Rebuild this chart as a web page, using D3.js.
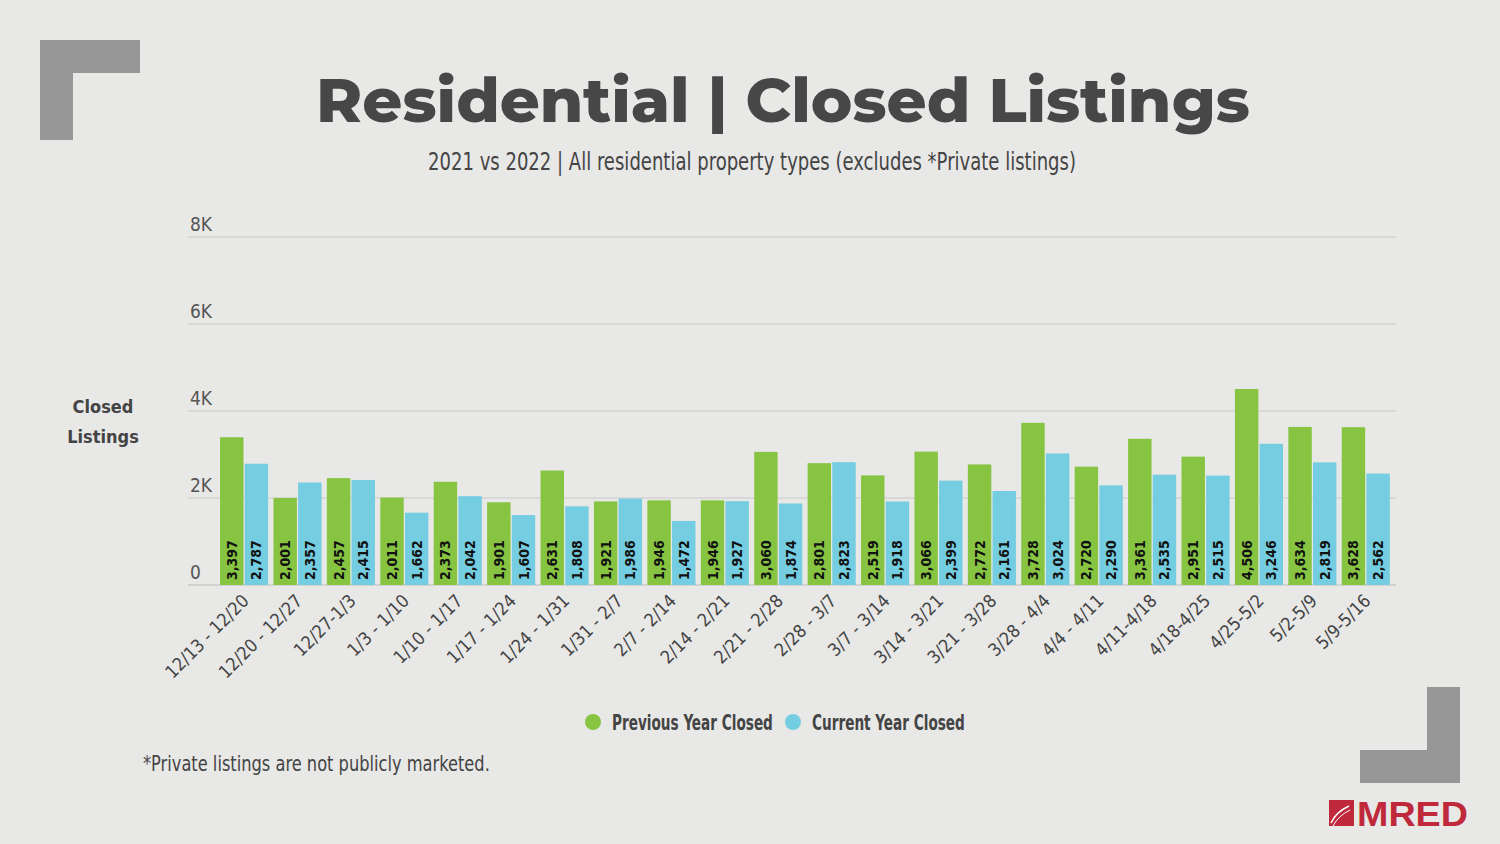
<!DOCTYPE html>
<html><head><meta charset="utf-8">
<script src="https://cdn.jsdelivr.net/npm/d3@7"></script>
<style>
html,body{margin:0;padding:0;background:#e8e8e7;}
svg{display:block;}
</style></head>
<body>
<svg id="c" width="1500" height="844"></svg>
<script>
const categories = ["12/13 - 12/20","12/20 - 12/27","12/27-1/3","1/3 - 1/10","1/10 - 1/17","1/17 - 1/24","1/24 - 1/31","1/31 - 2/7","2/7 - 2/14","2/14 - 2/21","2/21 - 2/28","2/28 - 3/7","3/7 - 3/14","3/14 - 3/21","3/21 - 3/28","3/28 - 4/4","4/4 - 4/11","4/11-4/18","4/18-4/25","4/25-5/2","5/2-5/9","5/9-5/16"];
const previousYear = [3397,2001,2457,2011,2373,1901,2631,1921,1946,1946,3060,2801,2519,3066,2772,3728,2720,3361,2951,4506,3634,3628];
const currentYear  = [2787,2357,2415,1662,2042,1607,1808,1986,1472,1927,1874,2823,1918,2399,2161,3024,2290,2535,2515,3246,2819,2562];
const seriesNames = ["Previous Year Closed","Current Year Closed"];
const yTicks = [0,2000,4000,6000,8000];
const yTickLabels = ["0","2K","4K","6K","8K"];

const colors = ["#86c441","#74cde0"];
const COND = "'Liberation Sans Narrow','DejaVu Sans Condensed','Roboto Condensed',sans-serif";
const svg = d3.select("#c");

// place a text whose left/centre is at (x,y) and squeeze it horizontally to width w
function fitText(x, y, w, anchor, str, attrs){
  const g = svg.append("g");
  const t = g.append("text").attr("x",0).attr("y",0).attr("text-anchor",anchor).text(str);
  Object.entries(attrs).forEach(([k,v])=>t.attr(k,v));
  const nat = t.node().getComputedTextLength();
  const sx = w / nat;
  g.attr("transform",`translate(${x},${y}) scale(${sx},1)`);
  return t;
}

// corner decorations
svg.append("path").attr("d","M40,40H140V73H73V140H40Z").attr("fill","#979797");
svg.append("path").attr("d","M1427,687H1460V783H1360V750H1427Z").attr("fill","#979797");

// title
fitText(783,122,934,"middle","Residential | Closed Listings",
  {"font-family":"Montserrat,'Open Sans',Lato,sans-serif","font-weight":800,"font-size":62,"fill":"#474747"});
fitText(752,170,648,"middle","2021 vs 2022 | All residential property types (excludes *Private listings)",
  {"font-family":COND,"font-size":24,"fill":"#444"});

// scales
const data = categories.map((c,i)=>({cat:c, vals:[previousYear[i], currentYear[i]]}));
const x = d3.scaleBand().domain(categories).range([217.4, 1392.5]).paddingInner(0.1).paddingOuter(0.05);
const x1 = d3.scaleBand().domain([0,1]).range([0, x.bandwidth()]).paddingInner(0.05);
const y = d3.scaleLinear().domain([0,8000]).range([585,237]);

// gridlines
const gl = svg.append("g");
gl.selectAll("line").data(yTicks).join("line")
  .attr("x1",188).attr("x2",1396).attr("y1",d=>y(d)).attr("y2",d=>y(d))
  .attr("stroke",d=>d===0?"#bdbdbd":"#c9c9c9").attr("stroke-width",1);
gl.selectAll("text").data(yTicks).join("text")
  .attr("x",190).attr("y",d=>y(d)-6).attr("font-family",COND).attr("font-size",19)
  .attr("fill","#555").text((d,i)=>yTickLabels[i]);

// y title
const yt = svg.append("text").attr("font-family",COND).attr("font-weight",700).attr("font-size",18)
  .attr("fill","#444").attr("text-anchor","middle");
yt.append("tspan").attr("x",103).attr("y",413).text("Closed");
yt.append("tspan").attr("x",103).attr("y",443).text("Listings");

// bars
const groups = svg.append("g").selectAll("g").data(data).join("g")
  .attr("transform",d=>`translate(${x(d.cat)},0)`);
groups.selectAll("rect").data(d=>d.vals).join("rect")
  .attr("x",(d,i)=>x1(i)).attr("width",x1.bandwidth())
  .attr("y",d=>y(d)).attr("height",d=>y(0)-y(d)).attr("fill",(d,i)=>colors[i]);
groups.selectAll("text").data(d=>d.vals).join("text")
  .attr("transform",(d,i)=>`translate(${x1(i)+x1.bandwidth()/2+5},580) rotate(-90)`)
  .attr("font-family",COND).attr("font-weight",700).attr("font-size",14).attr("fill","#111")
  .text(d=>d3.format(",")(d));

// x labels
svg.append("g").selectAll("text").data(categories).join("text")
  .attr("transform",d=>`translate(${x(d)+x.bandwidth()/2+6},602) rotate(-45)`)
  .attr("text-anchor","end").attr("font-family",COND).attr("font-size",18).attr("fill","#444")
  .text(d=>d);

// legend
const legX = [593, 793];
const legW = [161, 153];
seriesNames.forEach((s,i)=>{
  svg.append("circle").attr("cx",legX[i]).attr("cy",722).attr("r",8).attr("fill",colors[i]);
  fitText(legX[i]+19,730,legW[i],"start",s,
    {"font-family":COND,"font-weight":700,"font-size":21,"fill":"#444"});
});

// footnote
fitText(143,771,347,"start","*Private listings are not publicly marketed.",
  {"font-family":COND,"font-size":21,"fill":"#444"});

// logo
svg.append("rect").attr("x",1329).attr("y",800).attr("width",25).attr("height",26).attr("fill","#c0283b");
svg.append("path").attr("d","M1331,823 Q1336,812 1349,806").attr("stroke","#fff").attr("stroke-width",1.5).attr("fill","none");
svg.append("path").attr("d","M1333,826 Q1338,816 1350,810").attr("stroke","#fff").attr("stroke-width",1).attr("fill","none");
fitText(1357,826,111,"start","MRED",
  {"font-family":"'Liberation Sans',Arial,sans-serif","font-weight":700,"font-size":36,"fill":"#c0283b"});
</script>
</body></html>
